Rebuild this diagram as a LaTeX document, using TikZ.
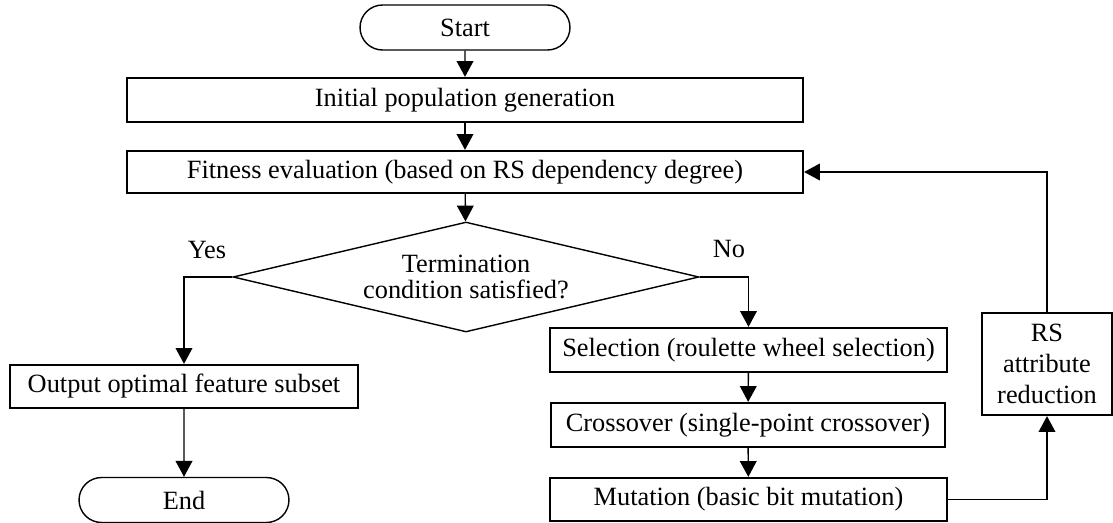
\documentclass[tikz,border=0pt]{standalone}
\usepackage{fontspec}
\setmainfont{Liberation Serif}
\usetikzlibrary{positioning, arrows.meta, shapes.geometric, shapes.misc}

\begin{document}
\begin{tikzpicture}[x=0.02cm, y=0.02cm,
    font=\fontsize{15pt}{15.3pt}\selectfont,
    box/.style={draw, line width=1.3pt, inner sep=0pt, minimum height=0.88cm},
    term/.style={draw, line width=0.8pt, rounded rectangle, inner sep=0pt, minimum width=4.2cm, minimum height=0.9cm},
    flow/.style={-{Triangle[length=9pt, width=9.5pt]}, line width=0.8pt}]
    \useasboundingbox (0,0) rectangle (1113,522);
    % main column
    \node[term] (start) at (465,494.5) {Start};
    \node[box, minimum width=13.52cm] (init) at (465,422) {Initial population generation};
    \node[box, minimum width=13.52cm, minimum height=0.84cm] (fit) at (465,350) {Fitness evaluation (based on RS dependency degree)};
    \node[draw, diamond, aspect=4.24, inner sep=0pt, line width=0.8pt, minimum width=9.32cm, minimum height=2.2cm, align=center] (cond) at (466,245) {Termination\\condition satisfied?};
    % yes branch
    \node[box, minimum width=6.96cm, minimum height=0.86cm] (out) at (184,135.5) {Output optimal feature subset};
    \node[term] (end) at (184,22) {End};
    % no branch
    \node[box, minimum width=7.94cm] (sel) at (748.5,172) {Selection (roulette wheel selection)};
    \node[box, minimum width=7.88cm] (cross) at (748,97) {Crossover (single-point crossover)};
    \node[box, minimum width=7.94cm, minimum height=0.86cm] (mut) at (748.5,22.5) {Mutation (basic bit mutation)};
    \node[box, minimum width=2.6cm, minimum height=2.04cm, align=center, font=\fontsize{15pt}{17.6pt}\selectfont] (rs) at (1047,158) {RS\\attribute\\reduction};
    \node (yes) at (207,272) {Yes};
    \node (no) at (729,273) {No};
    \draw[flow] (start) -- (init);
    \draw[flow] (init) -- (fit);
    \draw[flow] (fit) -- (cond);
    \draw[flow] (cond.west) -| (out.north);
    \draw[flow] (out) -- (end);
    \draw[flow] (cond.east) -| (sel.north);
    \draw[flow] (sel) -- (cross);
    \draw[flow] (cross) -- (mut);
    \draw[flow] (mut.east) -| (rs.south);
    \draw[flow] (rs.north) |- (fit.east);
\end{tikzpicture}
\end{document}
